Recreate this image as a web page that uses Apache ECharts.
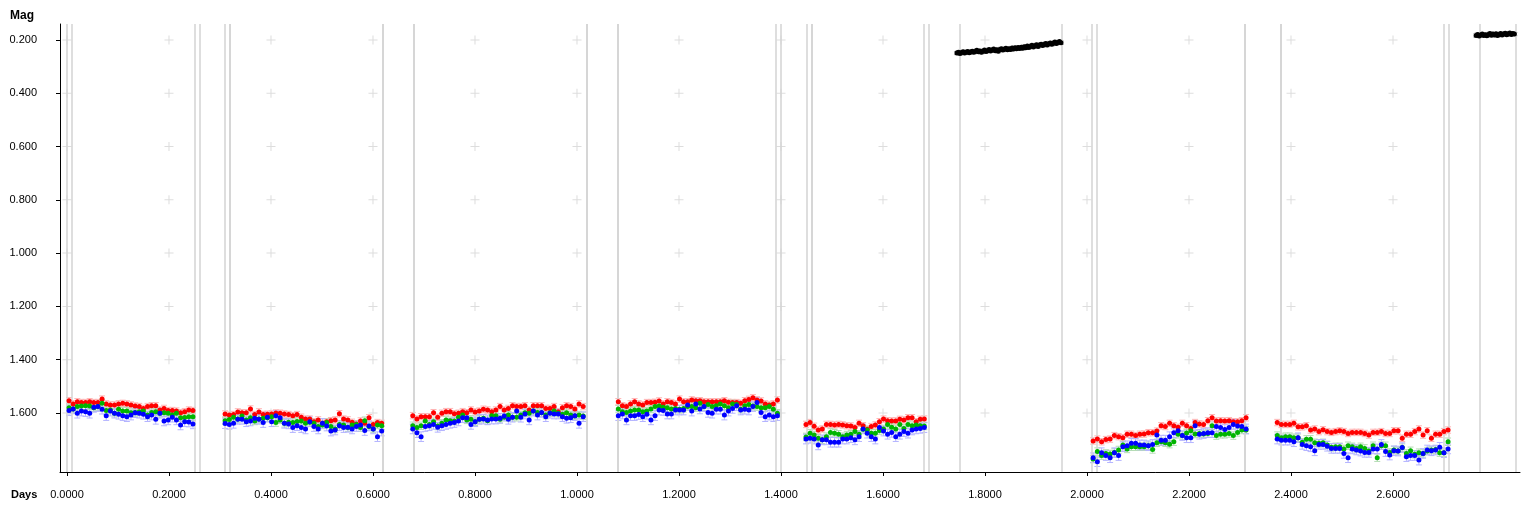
<!DOCTYPE html>
<html><head><meta charset="utf-8">
<script src="https://cdn.jsdelivr.net/npm/echarts@6/dist/echarts.min.js"></script>
<style>html,body{margin:0;padding:0;background:#fff}#c{width:1536px;height:512px}</style>
</head><body><div id="c"></div>
<script>
// ---- tick labels ----
const xTicks = [0,0.2,0.4,0.6,0.8,1.0,1.2,1.4,1.6,1.8,2.0,2.2,2.4,2.6];
const yTicks = [0.2,0.4,0.6,0.8,1.0,1.2,1.4,1.6];
// ---- session boundary lines (days) ----
const boundaryDays = [-0.001,0.0092,0.251,0.255,0.311,0.315,0.321,0.616,0.620,0.678,0.682,1.016,1.020,1.080,1.084,1.392,1.396,1.449,1.455,1.459,1.682,1.686,1.745,1.951,2.014,2.018,2.308,2.312,2.375,2.378,2.702,2.706,2.769,2.837];
// ---- session cadence: start day, step (days) ----
const sessionStart = [0.004, 0.310, 0.678, 1.081, 1.449, 2.012, 2.373];
const sessionStep  = [0.0081, 0.0083, 0.00815, 0.0080, 0.0080, 0.00833, 0.00817];
// ---- magnitudes per session ----
const s1Red   = [1.554,1.566,1.558,1.561,1.561,1.558,1.561,1.561,1.548,1.566,1.570,1.570,1.566,1.564,1.566,1.570,1.574,1.576,1.583,1.576,1.573,1.573,1.589,1.583,1.591,1.591,1.593,1.599,1.595,1.589,1.591];
const s1Green = [1.580,1.585,1.576,1.574,1.573,1.574,1.580,1.576,1.564,1.591,1.589,1.601,1.586,1.593,1.593,1.599,1.598,1.595,1.593,1.608,1.598,1.595,1.601,1.599,1.601,1.608,1.601,1.618,1.617,1.614,1.614];
const s1Blue  = [1.591,1.585,1.601,1.593,1.595,1.601,1.579,1.576,1.586,1.610,1.593,1.601,1.605,1.610,1.614,1.608,1.599,1.601,1.605,1.614,1.608,1.624,1.601,1.630,1.626,1.616,1.626,1.645,1.633,1.634,1.641];
const s2Red   = [1.604,1.608,1.606,1.596,1.599,1.599,1.585,1.606,1.596,1.606,1.605,1.604,1.600,1.601,1.604,1.606,1.610,1.606,1.616,1.623,1.623,1.633,1.626,1.639,1.633,1.629,1.626,1.603,1.623,1.626,1.635,1.641,1.630,1.639,1.618,1.643,1.636,1.639];
const s2Green = [1.629,1.625,1.616,1.623,1.611,1.626,1.618,1.630,1.623,1.620,1.618,1.614,1.636,1.626,1.639,1.635,1.636,1.632,1.630,1.639,1.635,1.639,1.651,1.645,1.636,1.651,1.660,1.643,1.645,1.655,1.645,1.643,1.655,1.629,1.651,1.660,1.645,1.648];
const s2Blue  = [1.640,1.643,1.639,1.624,1.624,1.633,1.630,1.620,1.624,1.636,1.616,1.633,1.610,1.618,1.639,1.641,1.655,1.648,1.655,1.660,1.633,1.651,1.660,1.639,1.649,1.668,1.664,1.648,1.655,1.654,1.660,1.651,1.645,1.666,1.649,1.660,1.689,1.668];
const s3Red   = [1.610,1.623,1.614,1.614,1.614,1.599,1.616,1.601,1.595,1.595,1.603,1.601,1.595,1.599,1.589,1.596,1.593,1.586,1.589,1.595,1.589,1.576,1.589,1.583,1.573,1.576,1.576,1.573,1.589,1.573,1.573,1.573,1.583,1.583,1.576,1.595,1.580,1.573,1.576,1.585,1.566,1.576];
const s3Green = [1.648,1.655,1.648,1.630,1.643,1.633,1.649,1.639,1.626,1.629,1.630,1.616,1.608,1.626,1.624,1.633,1.624,1.620,1.629,1.610,1.610,1.624,1.616,1.608,1.616,1.616,1.608,1.599,1.601,1.593,1.598,1.599,1.608,1.599,1.593,1.601,1.605,1.599,1.608,1.611,1.608,1.611];
const s3Blue  = [1.660,1.674,1.689,1.651,1.648,1.643,1.654,1.648,1.643,1.639,1.636,1.630,1.618,1.618,1.643,1.633,1.624,1.623,1.626,1.623,1.623,1.620,1.611,1.624,1.616,1.593,1.616,1.604,1.626,1.593,1.608,1.598,1.614,1.601,1.604,1.604,1.614,1.620,1.618,1.610,1.639,1.614];
const s4Red   = [1.558,1.573,1.576,1.566,1.558,1.566,1.570,1.561,1.561,1.560,1.555,1.566,1.558,1.561,1.566,1.548,1.558,1.558,1.551,1.554,1.554,1.558,1.558,1.558,1.558,1.558,1.554,1.560,1.561,1.561,1.564,1.554,1.549,1.543,1.551,1.555,1.566,1.570,1.566,1.551];
const s4Green = [1.585,1.595,1.598,1.593,1.589,1.589,1.595,1.593,1.585,1.576,1.574,1.579,1.580,1.585,1.583,1.586,1.583,1.576,1.576,1.580,1.564,1.576,1.568,1.576,1.573,1.566,1.573,1.580,1.566,1.568,1.586,1.573,1.568,1.574,1.576,1.580,1.580,1.576,1.586,1.601];
const s4Blue  = [1.610,1.604,1.626,1.610,1.610,1.606,1.614,1.605,1.626,1.610,1.589,1.591,1.604,1.604,1.589,1.589,1.589,1.570,1.593,1.566,1.585,1.576,1.598,1.601,1.586,1.586,1.608,1.593,1.583,1.573,1.589,1.586,1.589,1.576,1.561,1.598,1.614,1.608,1.614,1.610];
const s5Red   = [1.643,1.636,1.650,1.664,1.660,1.643,1.643,1.645,1.643,1.645,1.648,1.649,1.655,1.639,1.648,1.661,1.651,1.645,1.633,1.623,1.629,1.630,1.630,1.624,1.626,1.618,1.618,1.633,1.624,1.623];
const s5Green = [1.690,1.676,1.683,1.695,1.701,1.689,1.673,1.676,1.680,1.689,1.683,1.680,1.670,1.680,1.661,1.664,1.676,1.676,1.666,1.660,1.643,1.654,1.660,1.643,1.658,1.643,1.648,1.645,1.648,1.649];
const s5Blue  = [1.698,1.695,1.698,1.720,1.701,1.701,1.710,1.710,1.710,1.698,1.698,1.693,1.701,1.689,1.660,1.676,1.689,1.698,1.655,1.668,1.680,1.673,1.689,1.680,1.670,1.676,1.664,1.660,1.658,1.655];
const s7Red   = [1.705,1.698,1.708,1.700,1.698,1.685,1.689,1.693,1.680,1.680,1.685,1.680,1.679,1.674,1.674,1.668,1.648,1.651,1.639,1.648,1.654,1.639,1.648,1.658,1.636,1.641,1.643,1.629,1.618,1.630,1.629,1.630,1.629,1.633,1.633,1.629,1.618];
const s7Green = [1.773,1.745,1.760,1.752,1.754,1.748,1.739,1.720,1.735,1.727,1.727,1.727,1.727,1.723,1.737,1.712,1.708,1.712,1.717,1.708,1.680,1.685,1.675,1.667,1.679,1.677,1.679,1.677,1.648,1.685,1.680,1.680,1.677,1.685,1.673,1.664,1.664];
const s7Blue  = [1.768,1.783,1.749,1.760,1.768,1.749,1.760,1.727,1.723,1.714,1.714,1.720,1.720,1.723,1.718,1.683,1.702,1.702,1.689,1.674,1.667,1.685,1.693,1.693,1.648,1.680,1.677,1.674,1.674,1.651,1.655,1.662,1.655,1.643,1.649,1.651,1.660];
const s8Red   = [1.636,1.643,1.643,1.643,1.639,1.652,1.652,1.648,1.664,1.660,1.670,1.663,1.670,1.673,1.670,1.667,1.670,1.677,1.673,1.673,1.673,1.677,1.683,1.673,1.673,1.670,1.677,1.677,1.667,1.667,1.695,1.680,1.680,1.670,1.660,1.683,1.667,1.695,1.680,1.680,1.670,1.664];
const s8Green = [1.685,1.693,1.689,1.689,1.693,1.693,1.710,1.699,1.699,1.712,1.714,1.712,1.720,1.729,1.727,1.727,1.735,1.723,1.727,1.733,1.727,1.733,1.743,1.723,1.768,1.723,1.723,1.748,1.739,1.743,1.730,1.752,1.742,1.755,1.749,1.752,1.743,1.739,1.737,1.749,1.749,1.708];
const s8Blue  = [1.698,1.702,1.702,1.702,1.708,1.693,1.718,1.723,1.727,1.742,1.718,1.718,1.725,1.733,1.733,1.733,1.752,1.768,1.735,1.739,1.743,1.748,1.748,1.735,1.735,1.718,1.745,1.758,1.742,1.743,1.730,1.764,1.760,1.760,1.777,1.752,1.739,1.742,1.739,1.729,1.749,1.735];
// ---- black (comparison) sessions ----
const blackStart = [1.745, 2.763];
const blackStep  = [0.003, 0.003];
const b1Mag = [0.249,0.246,0.251,0.247,0.244,0.249,0.246,0.243,0.248,0.245,0.242,
               0.246,0.243,0.239,0.244,0.241,0.246,0.242,0.238,0.243,0.240,
               0.236,0.241,0.238,0.234,0.240,0.237,0.242,0.236,0.233,0.238,
               0.235,0.231,0.237,0.233,0.236,0.230,0.234,0.229,0.233,0.228,
               0.232,0.227,0.231,0.225,0.229,0.223,0.228,0.224,0.220,0.226,
               0.222,0.218,0.224,0.219,0.216,0.221,0.217,0.213,0.219,0.214,
               0.211,0.216,0.212,0.208,0.213,0.209,0.206,0.210];
const b2Mag = [0.183,0.179,0.185,0.181,0.178,0.183,0.180,0.184,0.179,0.176,0.182,0.178,0.181,0.177,0.183,0.179,0.176,0.181,0.178,0.175,0.180,0.177,0.174,0.179,0.176,0.178];
// ---- error sizes (mag) ----
const errRed = 0.012, errGreen = 0.014, errBlue = 0.018, errBlack = 0.006;

const redSessions = [s1Red,s2Red,s3Red,s4Red,s5Red,s7Red,s8Red];
const greenSessions = [s1Green,s2Green,s3Green,s4Green,s5Green,s7Green,s8Green];
const blueSessions = [s1Blue,s2Blue,s3Blue,s4Blue,s5Blue,s7Blue,s8Blue];

function build(sessions, starts, steps, err){
  const out = [];
  sessions.forEach((arr, k) => arr.forEach((m, i) => out.push([starts[k] + i*steps[k], m, err])));
  return out;
}
const redData = build(redSessions, sessionStart, sessionStep, errRed);
const greenData = build(greenSessions, sessionStart, sessionStep, errGreen);
const blueData = build(blueSessions, sessionStart, sessionStep, errBlue);
const blackData = build([b1Mag, b2Mag], blackStart, blackStep, errBlack);

const crossData = [];
xTicks.forEach(x => yTicks.forEach(y => crossData.push([x, y])));

function errSeries(data, color){
  return {
    type: 'custom', data: data, z: 2, silent: true, animation: false,
    encode: {x: 0, y: 1},
    renderItem: function(params, api){
      const x = api.value(0), y = api.value(1), e = api.value(2);
      const a = api.coord([x, y - e]), b = api.coord([x, y + e]);
      const w = 3;
      const st = {stroke: color, lineWidth: 1};
      return {type: 'group', children: [
        {type: 'line', shape: {x1: a[0], y1: a[1], x2: b[0], y2: b[1]}, style: st},
        {type: 'line', shape: {x1: a[0]-w, y1: a[1], x2: a[0]+w, y2: a[1]}, style: st},
        {type: 'line', shape: {x1: b[0]-w, y1: b[1], x2: b[0]+w, y2: b[1]}, style: st}
      ]};
    }
  };
}
function ptSeries(data, color, size){
  return {type: 'scatter', data: data, symbol: 'circle', symbolSize: size, z: 5,
    itemStyle: {color: color, opacity: 1}, silent: true, animation: false};
}

const font = 'Liberation Sans';
const chart = echarts.init(document.getElementById('c'), null, {renderer: 'canvas'});
chart.setOption({
  backgroundColor: '#ffffff',
  animation: false,
  grid: {left: 60, right: 16, top: 24, bottom: 40},
  xAxis: {
    type: 'value', min: -0.0137, max: 2.849,
    axisLine: {show: true, onZero: false, lineStyle: {color: '#000', width: 1}},
    axisTick: {show: true, length: 4, lineStyle: {color: '#000'}, customValues: xTicks},
    axisLabel: {customValues: xTicks, formatter: v => v.toFixed(4), color: '#000', fontFamily: font, fontSize: 11, margin: 17},
    splitLine: {show: false}
  },
  yAxis: {
    type: 'value', inverse: true, min: 0.140, max: 1.8216,
    axisLine: {show: true, onZero: false, lineStyle: {color: '#000', width: 1}},
    axisTick: {show: true, length: 4, lineStyle: {color: '#000'}, customValues: yTicks},
    axisLabel: {customValues: yTicks, formatter: v => v.toFixed(3), color: '#000', fontFamily: font, fontSize: 11, margin: 23},
    splitLine: {show: false}
  },
  graphic: [
    {type: 'text', left: 10, top: 10, style: {text: 'Mag', font: 'bold 12px "Liberation Sans"', fill: '#000'}},
    {type: 'text', left: 11, top: 489, style: {text: 'Days', font: 'bold 11px "Liberation Sans"', fill: '#000'}}
  ],
  series: [
    {type: 'scatter', data: crossData, z: 0, silent: true, animation: false,
     symbol: 'path://M4,0h1v4h4v1h-4v4h-1v-4h-4v-1h4z', symbolSize: [9, 9],
     itemStyle: {color: '#d4d4d4'},
     markLine: {silent: true, symbol: ['none','none'], animation: false, label: {show: false},
       lineStyle: {color: '#d3d3d3', width: 1.5, type: 'solid'},
       data: boundaryDays.map(d => ({xAxis: d}))}},
    errSeries(redData, '#ffb4b4'),
    errSeries(greenData, '#b4dcb4'),
    errSeries(blueData, '#b4b4ff'),
    errSeries(blackData, '#b0b0b0'),
    ptSeries(redData, '#ff0000', 5),
    ptSeries(greenData, '#00b400', 5),
    ptSeries(blueData, '#0000ff', 5),
    ptSeries(blackData, '#000000', 5)
  ]
});
</script></body></html>
